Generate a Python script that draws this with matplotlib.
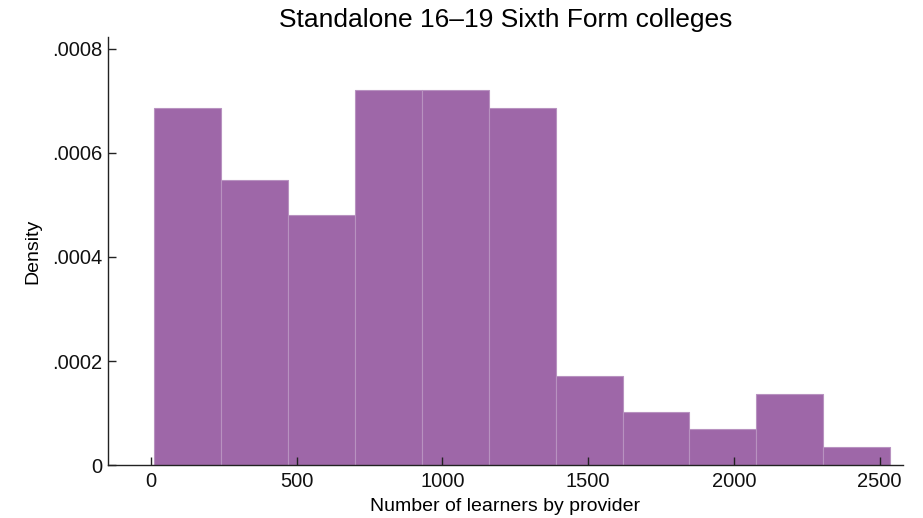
import numpy as np
import matplotlib
matplotlib.use("Agg")
import matplotlib.pyplot as plt
from matplotlib.ticker import FuncFormatter

# Histogram of learner counts per provider
bin_start = 10.0
bin_width = 229.7
counts = [20, 16, 14, 21, 21, 20, 5, 3, 2, 4, 1]

x_ticks = [0, 500, 1000, 1500, 2000, 2500]
y_ticks = [0, 0.0002, 0.0004, 0.0006, 0.0008]

title = "Standalone 16\u201319 Sixth Form colleges"
x_label = "Number of learners by provider"
y_label = "Density"

plt.rcParams["font.family"] = ["Liberation Sans", "DejaVu Sans"]

counts = np.array(counts, dtype=float)
edges = bin_start + bin_width * np.arange(len(counts) + 1)
density = counts / (counts.sum() * bin_width)

fig = plt.figure(figsize=(9.23, 5.18), dpi=100)
ax = fig.add_axes([0.117, 0.102, 0.861, 0.827])

ax.bar(edges[:-1], density, width=bin_width, align="edge",
       color="#9e67a8", edgecolor="#b892c0", linewidth=0.8)

ax.set_xlim(-147, 2579)
ax.set_ylim(0, 0.000823)
ax.set_xticks(x_ticks)
ax.set_yticks(y_ticks)
ax.yaxis.set_major_formatter(FuncFormatter(
    lambda v, p: "0" if v == 0 else ("%.4f" % v).lstrip("0")))

for s in ("top", "right"):
    ax.spines[s].set_visible(False)
for s in ("left", "bottom"):
    ax.spines[s].set_color("#222222")
    ax.spines[s].set_linewidth(1.0)

ax.tick_params(axis="both", direction="in", length=6, width=1.0,
               colors="#222222", labelsize=14.5, labelcolor="#111111")
ax.tick_params(axis="y", pad=4)
ax.tick_params(axis="x", pad=5)

ax.set_xlabel(x_label, fontsize=14, labelpad=5)
ax.set_ylabel(y_label, fontsize=14, labelpad=8)
ax.set_title(title, fontsize=19, pad=7)

fig.savefig("out.png", dpi=100)
